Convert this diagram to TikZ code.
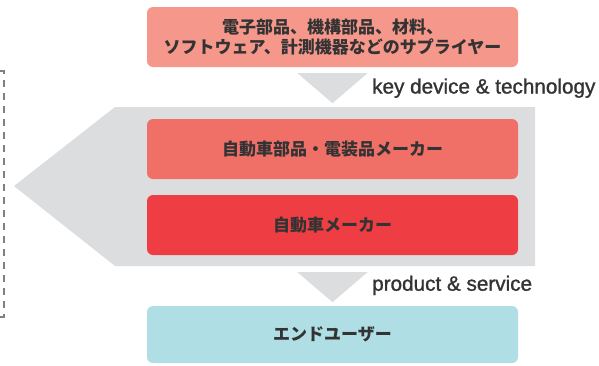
\documentclass[tikz,border=0pt]{standalone}
\usepackage{fontspec}
\setmainfont{Liberation Sans}
\newfontfamily\jpfont{Noto Sans CJK JP}
\newfontfamily\labelfont[FakeBold=1.2]{Liberation Sans}
\usetikzlibrary{positioning,calc}
\definecolor{supplierred}{HTML}{F5978A}
\definecolor{partsred}{HTML}{F07068}
\definecolor{makerred}{HTML}{EF3E43}
\definecolor{userblue}{HTML}{AFDFE4}
\definecolor{flowgrey}{HTML}{DCDDDF}
\definecolor{bracketgrey}{HTML}{808080}
\definecolor{textgrey}{HTML}{333333}

\begin{document}
\begin{tikzpicture}[x=1pt,y=-1pt,
    box/.style={rounded corners=6pt, minimum width=371pt, minimum height=60pt,
        inner sep=0pt, align=center, text=textgrey,
        font=\jpfont\bfseries\fontsize{17}{20.5}\selectfont},
    flowlabel/.style={anchor=base west, inner sep=0pt, text=textgrey,
        font=\labelfont\fontsize{20.7}{24}\selectfont},
    flowarrow/.style={fill=flowgrey},
    bracket/.style={draw=bracketgrey, line width=2pt,
        dash pattern=on 7pt off 6pt}]

    \useasboundingbox (0,0) rectangle (599,365);

    % grey band with the arrow head to the left
    \fill[flowgrey] (14,186) -- (115,107) -- (535,107) -- (535,266)
        -- (115,266) -- cycle;

    \node[box, fill=supplierred] (supplier) at (332.5,37)
        {電子部品、機構部品、材料、\\ソフトウェア、計測機器などのサプライヤー};
    \node[box, fill=partsred] (parts) at (332.5,149) {自動車部品・電装品メーカー};
    \node[box, fill=makerred] (maker) at (332.5,225) {自動車メーカー};
    \node[box, fill=userblue, minimum height=57pt] (user) at (332.5,334.5)
        {エンドユーザー};

    % flow arrows
    \fill[flowarrow] ($(supplier.south)+(-35,6)$) -- ($(supplier.south)+(35,6)$)
        -- ($(supplier.south)+(0,36)$) -- cycle;
    \fill[flowarrow] ($(maker.south)+(-35,17)$) -- ($(maker.south)+(35,17)$)
        -- ($(maker.south)+(0,47)$) -- cycle;

    \node[flowlabel] (keylabel) at (372,93.5) {key device \& technology};
    \node[flowlabel] (servicelabel) at (372,290.7) {product \& service};

    \draw[bracket] (0,71) -- (4,71) -- (4,317) -- (0,317);

\end{tikzpicture}
\end{document}
